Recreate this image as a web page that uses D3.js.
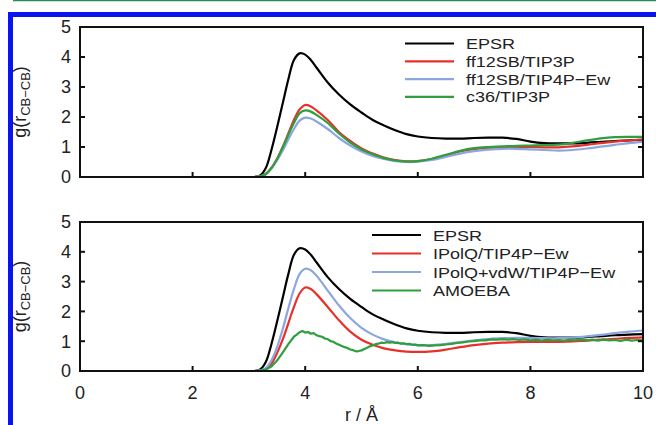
<!DOCTYPE html>
<html>
<head>
<meta charset="utf-8">
<script src="https://cdn.jsdelivr.net/npm/d3@7/dist/d3.min.js"></script>
<style>
  html, body { margin: 0; padding: 0; background: #fff; }
  svg { display: block; }
  text { font-family: "Liberation Sans", Arial, sans-serif; fill: #222; }
</style>
</head>
<body>
<svg id="chart" width="656" height="425"></svg>
<script>
// Radial distribution g(r) of CB–CB pairs, r in Å
const rGrid = [3.0, 3.1, 3.2, 3.3, 3.4, 3.5, 3.6, 3.7, 3.8, 3.9, 4.0, 4.1, 4.2, 4.4, 4.6, 4.8,
  5.0, 5.2, 5.4, 5.6, 5.8, 6.0, 6.25, 6.5, 6.75, 7.0, 7.25, 7.5, 7.75, 8.0, 8.25, 8.5, 8.75,
  9.0, 9.25, 9.5, 9.75, 10.0];

const epsr = [0, 0, 0.05, 0.3, 0.9, 1.65, 2.45, 3.25, 3.9, 4.12, 4.08, 3.9, 3.65, 3.15, 2.75, 2.42,
  2.15, 1.9, 1.72, 1.56, 1.43, 1.35, 1.3, 1.28, 1.28, 1.3, 1.31, 1.31, 1.27, 1.18, 1.13, 1.12, 1.12,
  1.14, 1.17, 1.2, 1.22, 1.24];

// upper panel
const ff12sbTip3p = [0, 0, 0.02, 0.1, 0.3, 0.6, 1.0, 1.45, 1.9, 2.25, 2.4, 2.35, 2.22, 1.9, 1.5, 1.2,
  0.95, 0.78, 0.65, 0.56, 0.52, 0.53, 0.6, 0.72, 0.85, 0.93, 0.97, 0.99, 1.0, 1.0, 0.99, 0.99, 1.02,
  1.07, 1.13, 1.18, 1.22, 1.25];
const ff12sbTip4pEw = [0, 0, 0.02, 0.09, 0.28, 0.55, 0.88, 1.25, 1.6, 1.88, 1.98, 1.95, 1.85, 1.6, 1.3, 1.05,
  0.85, 0.7, 0.6, 0.53, 0.5, 0.51, 0.57, 0.67, 0.78, 0.86, 0.91, 0.94, 0.94, 0.92, 0.9, 0.88, 0.9,
  0.95, 1.01, 1.07, 1.13, 1.17];
const c36Tip3p = [0, 0, 0.02, 0.1, 0.3, 0.6, 0.98, 1.4, 1.8, 2.12, 2.22, 2.18, 2.07, 1.8, 1.45, 1.15,
  0.92, 0.76, 0.63, 0.55, 0.51, 0.53, 0.61, 0.74, 0.87, 0.96, 1.0, 1.02, 1.04, 1.05, 1.06, 1.08, 1.14,
  1.22, 1.29, 1.33, 1.34, 1.34];

// lower panel
const ipolqTip4pEw = [0, 0, 0.01, 0.08, 0.25, 0.6, 1.05, 1.6, 2.15, 2.6, 2.8, 2.75, 2.58, 2.15, 1.7, 1.32,
  1.05, 0.88, 0.76, 0.69, 0.65, 0.64, 0.66, 0.72, 0.8, 0.87, 0.92, 0.95, 0.97, 0.98, 0.98, 0.98, 0.99,
  1.02, 1.05, 1.08, 1.11, 1.13];
const ipolqVdwTip4pEw = [0, 0, 0.02, 0.1, 0.35, 0.8, 1.4, 2.1, 2.75, 3.25, 3.43, 3.38, 3.2, 2.7, 2.2, 1.78,
  1.45, 1.22, 1.06, 0.96, 0.9, 0.87, 0.87, 0.91, 0.97, 1.03, 1.07, 1.1, 1.11, 1.11, 1.1, 1.1, 1.12,
  1.16, 1.21, 1.27, 1.32, 1.36];

// AMOEBA is sampled more finely (noisy curve)
const rAmoeba = [3.1, 3.2, 3.3, 3.4, 3.5, 3.6, 3.7, 3.8, 3.85, 3.9, 3.95, 4.0, 4.05, 4.1, 4.15, 4.2, 4.25, 4.3,
  4.35, 4.4, 4.45, 4.5, 4.55, 4.6, 4.65, 4.7, 4.75, 4.8, 4.85, 4.9, 4.95, 5.0, 5.05, 5.1, 5.15, 5.2,
  5.25, 5.3, 5.35, 5.4, 5.45, 5.5, 5.55, 5.6, 5.65, 5.7, 5.75, 5.8, 5.85, 5.9, 5.95, 6.0, 6.1, 6.2,
  6.3, 6.4, 6.5, 6.6, 6.7, 6.8, 6.9, 7.0, 7.1, 7.2, 7.3, 7.4, 7.5, 7.6, 7.7, 7.8, 7.9, 8.0, 8.1, 8.2,
  8.3, 8.4, 8.5, 8.6, 8.7, 8.8, 8.9, 9.0, 9.1, 9.2, 9.3, 9.4, 9.5, 9.6, 9.7, 9.8, 9.9, 10.0];
const amoeba = [0, 0.01, 0.05, 0.15, 0.35, 0.62, 0.9, 1.15, 1.22, 1.3, 1.34, 1.29, 1.31, 1.25, 1.27, 1.2, 1.17, 1.15,
  1.09, 1.07, 1.0, 0.98, 0.92, 0.88, 0.84, 0.8, 0.77, 0.72, 0.7, 0.66, 0.67, 0.69, 0.74, 0.78, 0.83, 0.86,
  0.9, 0.92, 0.95, 0.94, 0.97, 0.95, 0.97, 0.94, 0.95, 0.92, 0.93, 0.9, 0.91, 0.88, 0.89, 0.86, 0.87, 0.84,
  0.86, 0.87, 0.89, 0.91, 0.94, 0.96, 0.99, 1.0, 1.03, 1.03, 1.06, 1.05, 1.07, 1.05, 1.07, 1.04, 1.06, 1.03, 1.05, 1.02,
  1.05, 1.03, 1.04, 1.02, 1.05, 1.03, 1.06, 1.03, 1.05, 1.02, 1.05, 1.03, 1.04, 1.01, 1.05, 1.02, 1.04, 1.03];

const xTicks = [0, 2, 4, 6, 8, 10];
const yTicks = [0, 1, 2, 3, 4, 5];
const yMinorTicks = [1, 2, 3, 4];

const upperLegend = ["EPSR", "ff12SB/TIP3P", "ff12SB/TIP4P\u2212Ew", "c36/TIP3P"];
const lowerLegend = ["EPSR", "IPolQ/TIP4P\u2212Ew", "IPolQ+vdW/TIP4P\u2212Ew", "AMOEBA"];
const colors = ["#000000", "#e8302b", "#8ca6e0", "#2e9e3e"];

const FS = 18;        // axis text
const LEG_FS = 15.4;  // legend text, widened horizontally
const LEG_SX = 1.17;
const svg = d3.select("#chart");

// page decoration: green rule and blue frame
svg.append("line").attr("x1", 13).attr("x2", 656).attr("y1", 0.5).attr("y2", 0.5)
  .attr("stroke", "#2a8a5a").attr("stroke-width", 1.5);
svg.append("path").attr("d", "M10.5,425 V14.5 H656")
  .attr("fill", "none").attr("stroke", "#0a14f0").attr("stroke-width", 5);

const x = d3.scaleLinear().domain([0, 10]).range([80, 643]);

function panel(yTop, yBottom, series, legendNames, legend, showXLabels) {
  const y = d3.scaleLinear().domain([0, 5]).range([yBottom, yTop]);
  const g = svg.append("g");
  const clipId = "clip" + yTop;
  svg.append("clipPath").attr("id", clipId).append("rect")
    .attr("x", x(0)).attr("y", yTop).attr("width", x(10) - x(0)).attr("height", yBottom - yTop);

  const line = d3.line().x(d => x(d[0])).y(d => y(d[1]));
  const plot = g.append("g").attr("clip-path", `url(#${clipId})`);
  series.forEach((s, i) => {
    const pts = s.r.map((rv, k) => [rv, s.g[k]]);
    plot.append("path").datum(pts)
      .attr("fill", "none").attr("stroke", colors[i]).attr("stroke-width", 2.2)
      .attr("stroke-linejoin", "round")
      .attr("d", line.curve(s.smooth ? d3.curveCatmullRom.alpha(0.5) : d3.curveLinear));
  });

  // frame
  g.append("rect").attr("x", x(0)).attr("y", yTop).attr("width", x(10) - x(0)).attr("height", yBottom - yTop)
    .attr("fill", "none").attr("stroke", "#111").attr("stroke-width", 2);

  // inward ticks: left, right, bottom
  const tl = 5;
  yMinorTicks.forEach(t => {
    g.append("line").attr("x1", x(0)).attr("x2", x(0) + tl).attr("y1", y(t)).attr("y2", y(t))
      .attr("stroke", "#111").attr("stroke-width", 2);
    g.append("line").attr("x1", x(10)).attr("x2", x(10) - tl).attr("y1", y(t)).attr("y2", y(t))
      .attr("stroke", "#111").attr("stroke-width", 2);
  });
  xTicks.slice(1, -1).forEach(t => {
    g.append("line").attr("x1", x(t)).attr("x2", x(t)).attr("y1", yBottom).attr("y2", yBottom - tl)
      .attr("stroke", "#111").attr("stroke-width", 2);
  });

  // y tick labels
  g.selectAll(null).data(yTicks).join("text")
    .attr("x", x(0) - 9).attr("y", d => y(d)).attr("dy", "0.36em")
    .attr("text-anchor", "end").attr("font-size", FS).text(d => d);

  if (showXLabels) {
    g.selectAll(null).data(xTicks).join("text")
      .attr("x", d => x(d)).attr("y", yBottom + 28)
      .attr("text-anchor", "middle").attr("font-size", FS).text(d => d);
  }

  // y axis title: g(r_CB–CB)
  const ty = g.append("text")
    .attr("transform", `translate(26,${(yTop + yBottom) / 2}) rotate(-90)`)
    .attr("text-anchor", "middle").attr("font-size", FS);
  ty.append("tspan").text("g(r");
  ty.append("tspan").attr("font-size", 13).attr("dy", 4).text("CB\u2212CB");
  ty.append("tspan").attr("dy", -4).text(")");

  // legend
  const lg = g.append("g");
  legendNames.forEach((name, i) => {
    const ly = legend.y0 + i * legend.dy;
    lg.append("line").attr("x1", legend.x1).attr("x2", legend.x2).attr("y1", ly).attr("y2", ly)
      .attr("stroke", colors[i]).attr("stroke-width", 2.2);
    lg.append("text").attr("transform", `translate(${legend.tx},${ly}) scale(${LEG_SX},1)`)
      .attr("dy", "0.36em").attr("font-size", LEG_FS).text(name);
  });
}

panel(27, 177, [
  { r: rGrid, g: epsr, smooth: true },
  { r: rGrid, g: ff12sbTip3p, smooth: true },
  { r: rGrid, g: ff12sbTip4pEw, smooth: true },
  { r: rGrid, g: c36Tip3p, smooth: true }
], upperLegend, { x1: 405, x2: 454, tx: 466, y0: 43.5, dy: 17.8 }, false);

panel(222, 371, [
  { r: rGrid, g: epsr, smooth: true },
  { r: rGrid, g: ipolqTip4pEw, smooth: true },
  { r: rGrid, g: ipolqVdwTip4pEw, smooth: true },
  { r: rAmoeba, g: amoeba, smooth: false }
], lowerLegend, { x1: 372, x2: 421, tx: 433, y0: 235, dy: 18.5 }, true);

// x axis title
svg.append("text").attr("x", x(5)).attr("y", 421).attr("text-anchor", "middle")
  .attr("font-size", FS).text("r / \u00c5");
</script>
</body>
</html>
